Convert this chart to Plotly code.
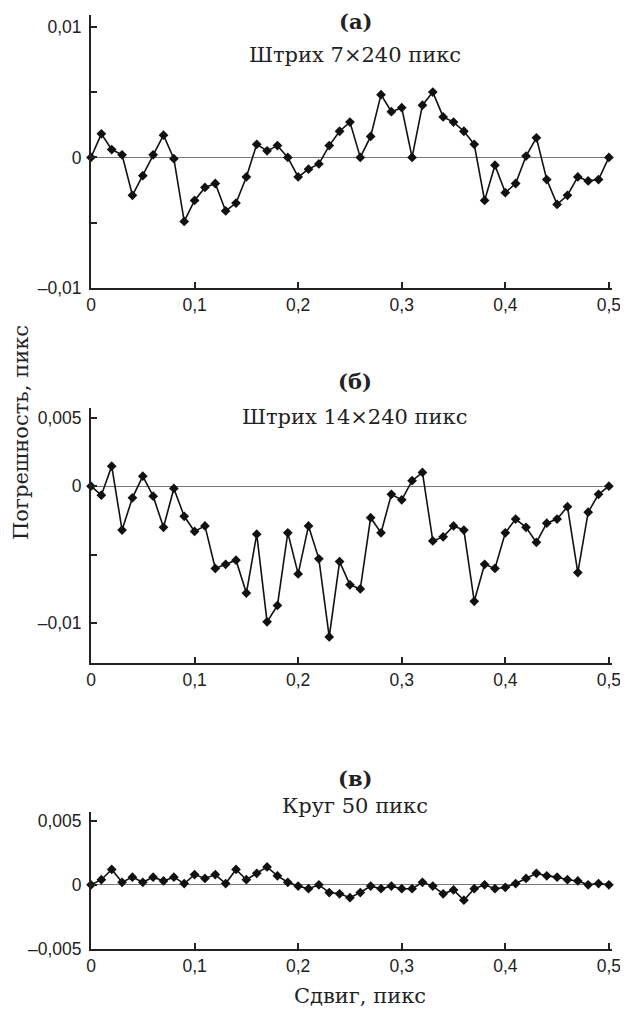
import plotly.graph_objects as go

shift = [round(i * 0.01, 2) for i in range(51)]

err_a = [0.0, 0.0018, 0.0006, 0.0002, -0.0029, -0.0014, 0.0002, 0.0017, -0.0001, -0.0049,
         -0.0033, -0.0023, -0.0020, -0.0041, -0.0035, -0.0015, 0.0010, 0.0005, 0.0009, 0.0,
         -0.0015, -0.0009, -0.0005, 0.0009, 0.0020, 0.0027, 0.0, 0.0016, 0.0048, 0.0035,
         0.0038, 0.0, 0.0040, 0.0050, 0.0031, 0.0027, 0.0020, 0.0010, -0.0033, -0.0006,
         -0.0027, -0.0020, 0.0001, 0.0015, -0.0017, -0.0036, -0.0029, -0.0015, -0.0018, -0.0017,
         0.0]

err_b = [0.0, -0.00066, 0.00146, -0.0032, -0.00085, 0.00073, -0.00073, -0.0030, -0.00017, -0.0022,
         -0.0033, -0.0029, -0.0060, -0.0057, -0.0054, -0.0078, -0.0035, -0.0099, -0.0087, -0.0034,
         -0.0064, -0.0029, -0.0053, -0.0110, -0.0055, -0.0072, -0.0075, -0.0023, -0.0034, -0.0006,
         -0.0010, 0.0004, 0.0010, -0.0040, -0.0037, -0.0029, -0.0032, -0.0084, -0.0057, -0.0060,
         -0.0034, -0.0024, -0.0030, -0.0041, -0.0027, -0.0024, -0.0015, -0.0063, -0.0019, -0.0006,
         0.0]

err_c = [0.0, 0.0004, 0.0012, 0.0002, 0.0006, 0.0002, 0.0006, 0.0003, 0.0006, 0.0001,
         0.0008, 0.0005, 0.0008, 0.0001, 0.0012, 0.0004, 0.0009, 0.0014, 0.0007, 0.0002,
         -0.0001, -0.0003, 0.0, -0.0006, -0.0007, -0.0010, -0.0006, -0.0001, -0.0003, -0.0001,
         -0.0003, -0.0003, 0.0002, -0.0001, -0.0007, -0.0004, -0.0012, -0.0003, 0.0, -0.0003,
         -0.0002, 0.0001, 0.0005, 0.0009, 0.0007, 0.0006, 0.0004, 0.0003, 0.0, 0.0001,
         0.0]

x_tickvals = [0, 0.1, 0.2, 0.3, 0.4, 0.5]
x_ticktext = ["0", "0,1", "0,2", "0,3", "0,4", "0,5"]

ya_tickvals = [0.01, 0.005, 0, -0.005, -0.01]
ya_ticktext = ["0,01", "", "0", "", "\u20130,01"]
yb_tickvals = [0.005, 0, -0.005, -0.01]
yb_ticktext = ["0,005", "0", "", "\u20130,01"]
yc_tickvals = [0.005, 0, -0.005]
yc_ticktext = ["0,005", "0", "\u20130,005"]

panel_letters = ["<b>(а)</b>", "<b>(б)</b>", "<b>(в)</b>"]
panel_titles = ["Штрих 7\u00d7240 пикс", "Штрих 14\u00d7240 пикс", "Круг 50 пикс"]
x_title = "Сдвиг, пикс"
y_title = "Погрешность, пикс"

# page body adds an 8px offset; work in reference-pixel coordinates and subtract it
OFF = 8
W, H = 628 - OFF, 1009 - OFF
ML = 91 - OFF
MR = W - (612 - OFF)
MT = 15 - OFF
MB = H - (949 - OFF)
plot_h = H - MT - MB


def py(pix):
    return (H - MB - (pix - OFF)) / plot_h


def px(pix):
    return ((pix - OFF) - ML) / (W - ML - MR)


fig = go.Figure()
series = [err_a, err_b, err_c]
for k, ys in enumerate(series):
    sfx = "" if k == 0 else str(k + 1)
    fig.add_trace(go.Scatter(
        x=shift, y=ys, mode="lines+markers",
        line=dict(color="#111111", width=1.6),
        marker=dict(symbol="diamond", size=7.5, color="#111111"),
        xaxis="x" + sfx, yaxis="y" + sfx, showlegend=False,
        cliponaxis=False,
    ))

tickfont = dict(family="Liberation Sans, Arial, sans-serif", size=17.5, color="#222222")
serif = "DejaVu Serif, serif"
tsize = 21

domains = [(py(288), py(15)), (py(663), py(408)), (py(949), py(811.7))]
yranges = [[-0.01, 0.0109], [-0.0129, 0.0057], [-0.005, 0.0057]]
yticks = [(ya_tickvals, ya_ticktext), (yb_tickvals, yb_ticktext), (yc_tickvals, yc_ticktext)]

layout = dict(
    width=W, height=H,
    margin=dict(l=ML, r=MR, t=MT, b=MB),
    paper_bgcolor="white", plot_bgcolor="white",
    showlegend=False,
)
for k in range(3):
    sfx = "" if k == 0 else str(k + 1)
    layout["xaxis" + sfx] = dict(
        domain=[0, 1], range=[0, 0.503], anchor="y" + sfx,
        tickvals=x_tickvals, ticktext=x_ticktext, ticks="inside", ticklen=6,
        tickwidth=1.5, tickcolor="#222222",
        showline=True, linecolor="#222222", linewidth=2, showgrid=False,
        zeroline=False, tickfont=tickfont,
    )
    layout["yaxis" + sfx] = dict(
        domain=list(domains[k]), range=yranges[k], anchor="x" + sfx,
        tickvals=yticks[k][0], ticktext=yticks[k][1], ticks="inside", ticklen=6,
        tickwidth=1.5, tickcolor="#222222",
        showline=True, linecolor="#222222", linewidth=2, showgrid=False,
        zeroline=True, zerolinecolor="#777777", zerolinewidth=1,
        tickfont=tickfont, ticklabelstandoff=4,
    )
fig.update_layout(**layout)

letter_y = [22, 382, 778]
title_y = [55, 417, 806]
for k in range(3):
    fig.add_annotation(x=px(355), y=py(letter_y[k]), xref="paper", yref="paper",
                       text=panel_letters[k], showarrow=False,
                       font=dict(family=serif, size=tsize, color="#222222"),
                       xanchor="center", yanchor="middle")
    fig.add_annotation(x=px(355), y=py(title_y[k]), xref="paper", yref="paper",
                       text=panel_titles[k], showarrow=False,
                       font=dict(family=serif, size=tsize, color="#222222"),
                       xanchor="center", yanchor="middle")

fig.add_annotation(x=px(360), y=py(996), xref="paper", yref="paper",
                   text=x_title, showarrow=False,
                   font=dict(family=serif, size=tsize, color="#222222"),
                   xanchor="center", yanchor="middle")
fig.add_annotation(x=px(21), y=py(433), xref="paper", yref="paper",
                   text=y_title, showarrow=False, textangle=-90,
                   font=dict(family=serif, size=tsize, color="#222222"),
                   xanchor="center", yanchor="middle")

fig.write_html("out.html")
